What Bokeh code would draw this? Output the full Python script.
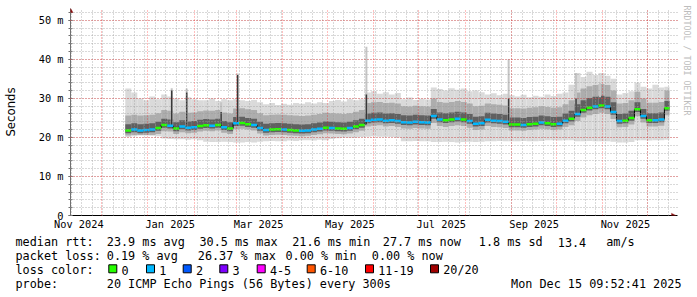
import pandas as pd
from bokeh.plotting import figure
from bokeh.layouts import column
from bokeh.models import (Range1d, FixedTicker, MonthsTicker, SingleIntervalTicker,
                          DatetimeTickFormatter, CustomJSTickFormatter, Grid,
                          PolyAnnotation, Title)
from bokeh.core.properties import value
from bokeh.embed import file_html
from bokeh.resources import INLINE

# ---------------- data ----------------
t_first = "2024-11-10 09:52:41"
t_last = "2025-12-15 09:52:41"
bin_origin = "2024-12-17"
bin_days = 4

median_ms = [
    21.8, 22.0, 21.8, 21.9, 22.0, 22.4, 23.2, 23.0, 22.3, 22.8,
    22.5, 22.6, 22.9, 23.1, 23.0, 23.2, 22.6, 22.3, 23.6, 23.7,
    23.4, 23.2, 22.4, 21.9, 22.0, 22.1, 22.0, 21.9, 21.8, 21.7,
    21.8, 22.0, 22.2, 22.5, 22.4, 22.3, 22.2, 22.4, 22.8, 23.2,
    24.3, 24.5, 24.6, 24.3, 24.4, 24.2, 23.9, 23.8, 24.0, 23.9,
    23.8, 25.5, 24.6, 24.4, 24.6, 24.8, 24.6, 24.2, 23.5, 23.6,
    24.5, 24.3, 24.2, 24.0, 23.3, 23.3, 23.2, 23.4, 23.5, 23.8,
    23.6, 23.4, 23.5, 24.3, 24.8, 26.0, 27.0, 27.6, 27.9, 28.2,
    27.9, 26.5, 24.2, 24.3, 25.0, 27.2, 25.5, 24.4, 24.4, 24.6,
    27.5]

loss_index = [
    0, 1, 1, 1, 1, 0, 0, 1, 0, 1,
    1, 1, 0, 0, 1, 0, 1, 0, 1, 0,
    0, 1, 1, 1, 0, 0, 1, 0, 0, 1,
    1, 1, 1, 0, 1, 0, 0, 1, 0, 0,
    1, 1, 1, 1, 1, 1, 1, 1, 1, 1,
    1, 1, 1, 0, 0, 1, 0, 1, 1, 1,
    1, 1, 1, 1, 0, 0, 1, 0, 0, 1,
    0, 0, 1, 1, 0, 1, 0, 0, 1, 0,
    1, 1, 1, 0, 0, 0, 1, 0, 1, 1,
    0]

smoke_hi = [
    32.5, 31.5, 30.0, 29.5, 30.5, 29.8, 31.0, 30.5, 30.0, 29.5,
    30.3, 29.8, 29.5, 29.5, 30.0, 29.3, 29.8, 29.5, 29.8, 29.5,
    29.3, 29.6, 29.0, 28.5, 28.8, 28.3, 28.6, 28.4, 28.8, 28.6,
    29.0, 28.7, 29.0, 28.8, 29.3, 29.6, 29.2, 29.8, 29.5, 29.8,
    31.5, 31.8, 31.2, 31.6, 31.0, 31.4, 29.8, 30.2, 29.6, 29.9,
    29.7, 32.8, 32.4, 32.0, 32.6, 32.2, 32.5, 31.8, 32.0, 31.6,
    31.0, 31.3, 30.8, 31.2, 30.8, 30.5, 30.9, 30.3, 30.7, 30.4,
    31.0, 30.6, 31.2, 31.5, 33.5, 36.5, 35.5, 36.8, 36.0, 36.5,
    35.8, 35.0, 31.0, 31.4, 31.8, 34.0, 33.0, 32.5, 33.5, 32.8,
    33.0]

smoke_lo = [
    20.1, 20.3, 20.5, 20.5, 20.4, 20.3, 19.7, 19.6, 19.5, 19.5,
    19.4, 19.5, 19.3, 18.9, 18.8, 18.8, 18.9, 18.8, 18.7, 18.7,
    18.8, 18.7, 18.9, 19.0, 19.1, 19.0, 19.0, 19.2, 19.1, 19.3,
    19.3, 19.2, 19.4, 19.3, 19.6, 19.8, 20.0, 19.9, 20.0, 20.1,
    20.2, 20.3, 20.2, 20.2, 20.1, 20.0, 19.0, 19.0, 19.1, 19.0,
    19.0, 18.8, 18.8, 18.9, 18.8, 18.7, 18.8, 18.9, 18.8, 18.9,
    19.0, 19.0, 19.1, 19.0, 19.0, 19.0, 19.1, 19.0, 19.0, 19.1,
    19.3, 19.3, 19.2, 19.3, 19.3, 19.0, 19.0, 19.1, 19.0, 19.0,
    19.0, 18.9, 18.7, 18.7, 18.8, 19.3, 19.3, 19.2, 19.3, 19.3,
    19.4]

mid_hi = [
    25.6, 25.8, 25.6, 25.7, 25.8, 26.2, 27.0, 26.8, 26.1, 26.6,
    26.3, 26.4, 26.7, 26.9, 26.8, 27.0, 26.4, 26.1, 27.4, 27.5,
    27.2, 27.0, 26.2, 25.7, 25.8, 25.9, 25.8, 25.7, 25.6, 25.5,
    25.6, 25.8, 26.0, 26.3, 26.2, 26.1, 26.0, 26.2, 26.6, 27.0,
    28.8, 29.0, 29.1, 28.8, 28.9, 28.7, 28.0, 27.9, 28.1, 28.0,
    27.9, 30.0, 29.1, 28.9, 29.1, 29.3, 29.1, 28.7, 28.0, 28.1,
    28.7, 28.5, 28.4, 28.2, 27.5, 27.5, 27.4, 27.6, 27.7, 28.0,
    27.8, 27.6, 27.7, 28.5, 29.5, 31.5, 32.5, 33.1, 33.4, 33.7,
    33.4, 32.0, 28.7, 28.8, 29.5, 31.7, 30.0, 28.9, 28.9, 29.1,
    32.0]

mid_lo = [
    20.5, 20.6, 20.6, 20.6, 20.6, 20.9, 21.6, 21.5, 20.9, 21.3,
    21.1, 21.2, 21.5, 21.7, 21.6, 21.8, 21.2, 20.9, 22.1, 22.2,
    22.0, 21.8, 21.0, 20.5, 20.6, 20.7, 20.6, 20.5, 20.4, 20.3,
    20.4, 20.6, 20.8, 21.1, 21.0, 20.9, 20.8, 21.0, 21.3, 21.7,
    22.8, 23.0, 23.1, 22.8, 22.9, 22.7, 22.3, 22.2, 22.4, 22.3,
    22.2, 23.7, 22.9, 22.7, 22.9, 23.1, 22.9, 22.5, 21.9, 22.0,
    22.9, 22.7, 22.6, 22.4, 21.8, 21.8, 21.7, 21.9, 22.0, 22.2,
    22.1, 21.9, 22.0, 22.7, 23.1, 24.2, 25.1, 25.7, 26.0, 26.3,
    26.0, 24.7, 22.6, 22.7, 23.3, 25.4, 23.8, 22.8, 22.8, 23.0,
    25.7]

core_hi = [
    23.4, 23.6, 23.4, 23.5, 23.6, 24.0, 24.8, 24.6, 23.9, 24.4,
    24.1, 24.2, 24.5, 24.7, 24.6, 24.8, 24.2, 23.9, 25.2, 25.3,
    25.0, 24.8, 24.0, 23.5, 23.6, 23.7, 23.6, 23.5, 23.4, 23.3,
    23.4, 23.6, 23.8, 24.1, 24.0, 23.9, 23.8, 24.0, 24.4, 24.8,
    26.1, 26.3, 26.4, 26.1, 26.2, 26.0, 25.7, 25.6, 25.8, 25.7,
    25.6, 27.3, 26.4, 26.2, 26.4, 26.6, 26.4, 26.0, 25.3, 25.4,
    26.3, 26.1, 26.0, 25.8, 25.1, 25.1, 25.0, 25.2, 25.3, 25.6,
    25.4, 25.2, 25.3, 26.1, 26.8, 28.5, 29.5, 30.1, 30.4, 30.7,
    30.4, 29.0, 26.0, 26.1, 26.8, 29.0, 27.3, 26.2, 26.2, 26.4,
    29.3]

core_lo = [
    21.1, 21.3, 21.1, 21.2, 21.3, 21.7, 22.5, 22.3, 21.6, 22.1,
    21.8, 21.9, 22.2, 22.4, 22.3, 22.5, 21.9, 21.6, 22.9, 23.0,
    22.7, 22.5, 21.7, 21.2, 21.3, 21.4, 21.3, 21.2, 21.1, 21.0,
    21.1, 21.3, 21.5, 21.8, 21.7, 21.6, 21.5, 21.7, 22.1, 22.5,
    23.6, 23.8, 23.9, 23.6, 23.7, 23.5, 23.2, 23.1, 23.3, 23.2,
    23.1, 24.8, 23.9, 23.7, 23.9, 24.1, 23.9, 23.5, 22.8, 22.9,
    23.8, 23.6, 23.5, 23.3, 22.6, 22.6, 22.5, 22.7, 22.8, 23.1,
    22.9, 22.7, 22.8, 23.6, 24.1, 25.3, 26.3, 26.9, 27.2, 27.5,
    27.2, 25.8, 23.5, 23.6, 24.3, 26.5, 24.8, 23.7, 23.7, 23.9,
    26.8]

spike_dates = ["2025-01-17", "2025-01-27", "2025-02-19", "2025-03-02",
               "2025-05-27", "2025-08-30", "2025-10-14", "2025-10-30"]
spike_base_ms = [22.8, 22.6, 23.0, 23.0, 23.3, 23.8, 25.5, 27.9]
spike_core_ms = [32.0, 31.5, 26.5, 36.0, 31.0, 30.0, 30.0, 30.3]
spike_top_ms = [32.6, 32.5, 29.0, 36.4, 43.2, 40.0, 36.5, 34.0]

x_label_dates = ["2024-11-16", "2025-01-16", "2025-03-16", "2025-05-16",
                 "2025-07-16", "2025-09-16", "2025-11-16"]

loss_labels = ["0", "1", "2", "3", "4-5", "6-10", "11-19", "20/20"]
loss_colors = ["#26ff00", "#00b8ff", "#0059ff", "#7e00ff",
               "#ff00ff", "#ff5500", "#ff0000", "#a00000"]

rtt_parts = ["median rtt:", "23.9 ms avg", "30.5 ms max", "21.6 ms min",
             "27.7 ms now", "1.8 ms sd", "13.4", "am/s"]
loss_parts = ["packet loss:", "0.19 % avg", "26.37 % max", "0.00 % min", "0.00 % now"]
color_head = "loss color:"
probe_parts = ["probe:", "20 ICMP Echo Pings (56 Bytes) every 300s"]
stamp_line = "Mon Dec 15 09:52:41 2025"
watermark = "RRDTOOL / TOBI OETIKER"

# ---------------- layout constants (page pixels) ----------------
rtt_x = [15, 106.3, 199, 291.7, 382.3, 478.3, 557.3, 605.7]
loss_x = [15, 106.3, 197.3, 285, 371.3]
probe_x = [15, 106.3]
stamp_right = 681
box_left = [108.3, 146, 182.7, 219.3, 256.7, 306.7, 365, 430]
box_top, box_size = 264.3, 8
line_base = [241.5, 255.5, 269.5, 283.5]

PX_PER_DAY = 1.4975
PX_PER_MS = 3.904
FRAME_L, FRAME_T = 67, 8          # frame starts a few px above 52 ms for the arrow head
FRAME_W, FRAME_H = 607, 207       # and a few px right of the last sample
BOTTOM = 20
MAIN_H = FRAME_T + FRAME_H + BOTTOM
MONO = "DejaVu Sans Mono"
LEG_FONT = "11.8px"

# ---------------- helpers ----------------
DAY = 86400000.0


def ms(ts):
    return pd.Timestamp(ts).value / 1e6


n = len(median_ms)
x0, x1 = ms(t_first), ms(t_last)
x_left = [ms(bin_origin) + i * bin_days * DAY for i in range(n)]
x_right = [min(v + bin_days * DAY, x1) for v in x_left]
x_end = x0 + FRAME_W / PX_PER_DAY * DAY
y_end = FRAME_H / PX_PER_MS
px_d = DAY / PX_PER_DAY      # x data per pixel
px_m = 1.0 / PX_PER_MS       # y data per pixel

# ---------------- main graph ----------------
p = figure(frame_width=FRAME_W, frame_height=FRAME_H, title=None,
           x_range=Range1d(x0, x_end), y_range=Range1d(0, y_end),
           x_axis_type="datetime", output_backend="svg", toolbar_location=None,
           min_border_left=FRAME_L, min_border_right=697 - FRAME_L - FRAME_W,
           min_border_top=FRAME_T, min_border_bottom=BOTTOM)
p.frame_align = False
p.outline_line_color = None
p.xgrid.visible = False
p.ygrid.visible = False

# smoke
p.quad(left=x_left, right=x_right, bottom=smoke_lo, top=smoke_hi,
       fill_color="#dadada", line_color=None)
p.quad(left=x_left, right=x_right, bottom=mid_lo, top=mid_hi,
       fill_color="#adadad", line_color=None)
p.quad(left=x_left, right=x_right, bottom=core_lo, top=core_hi,
       fill_color="#606060", line_color=None)

sd = [ms(d) for d in spike_dates]
p.segment(x0=sd, x1=sd, y0=spike_base_ms, y1=spike_top_ms,
          line_color="#c4c4c4", line_width=2)
p.segment(x0=sd, x1=sd, y0=spike_base_ms, y1=spike_core_ms,
          line_color="#383838", line_width=1.5)

# median line
p.segment(x0=x_right[:-1], x1=x_right[:-1], y0=median_ms[:-1], y1=median_ms[1:],
          line_color="black", line_width=1)
p.segment(x0=x_left, x1=x_right, y0=median_ms, y1=median_ms,
          line_color=[loss_colors[k] for k in loss_index], line_width=2.5)

# grids (drawn on top like rrdtool)
week_ticks = [ms(d) for d in pd.date_range("2024-11-11", "2025-12-15", freq="W-MON")]
g_week = Grid(dimension=0, ticker=FixedTicker(ticks=week_ticks),
              grid_line_color="#999999", grid_line_alpha=0.75, grid_line_dash="1 2", level="overlay")
g_month = Grid(dimension=0, ticker=MonthsTicker(months=list(range(12))),
               grid_line_color="#ff0000", grid_line_alpha=0.5, grid_line_dash="1 2", level="overlay")
g_ymin = Grid(dimension=1, ticker=FixedTicker(ticks=list(range(0, 53, 2))),
              grid_line_color="#999999", grid_line_alpha=0.75, grid_line_dash="1 2", level="overlay")
g_ymaj = Grid(dimension=1, ticker=SingleIntervalTicker(interval=10),
              grid_line_color="#ff0000", grid_line_alpha=0.5, grid_line_dash="1 2", level="overlay")
for g in (g_week, g_ymin, g_month, g_ymaj):
    p.add_layout(g)

# axes
ya = p.yaxis[0]
ya.ticker = SingleIntervalTicker(interval=10, num_minor_ticks=5)
ya.formatter = CustomJSTickFormatter(code="return tick == 0 ? '0' : tick.toFixed(0) + ' m';")
ya.axis_line_color = "#707070"
ya.major_tick_line_color = "#707070"
ya.minor_tick_line_color = "#707070"
ya.major_tick_in = 2
ya.major_tick_out = 2
ya.minor_tick_in = 2
ya.minor_tick_out = 2
ya.major_label_text_font = MONO
ya.major_label_text_font_size = "10.3px"
ya.major_label_text_color = "black"
ya.major_label_standoff = 5
ya.axis_label = "Seconds"
ya.axis_label_text_font = "DejaVu Sans"
ya.axis_label_text_font_size = "11.7px"
ya.axis_label_text_font_style = "normal"
ya.axis_label_text_color = "black"
ya.axis_label_standoff = 18

xa = p.xaxis[0]
xa.ticker = FixedTicker(ticks=[ms(d) for d in x_label_dates])
fmt = "%b %Y"
xa.formatter = DatetimeTickFormatter(microseconds=fmt, milliseconds=fmt, seconds=fmt,
                                     minsec=fmt, minutes=fmt, hourmin=fmt, hours=fmt,
                                     days=fmt, months=fmt, years=fmt)
xa.axis_line_color = "black"
xa.major_tick_line_color = None
xa.minor_tick_line_color = None
xa.major_tick_in = 0
xa.major_tick_out = 0
xa.minor_tick_in = 0
xa.minor_tick_out = 0
xa.axis_label_standoff = 0
xa.major_label_text_font = MONO
xa.major_label_text_font_size = "10.3px"
xa.major_label_text_color = "black"
xa.major_label_standoff = 2

# axis arrow heads (rrdtool style), inside the slightly enlarged frame
arrow_col = "#8b1010"
p.add_layout(PolyAnnotation(
    xs=[x0 - 2.5 * px_d, x0 + 2.5 * px_d, x0],
    ys=[52.0, 52.0, 52.0 + 4.4 * px_m],
    fill_color=arrow_col, fill_alpha=1, line_color=arrow_col, level="overlay"))
p.add_layout(PolyAnnotation(
    xs=[x1 + 2 * px_d, x1 + 2 * px_d, x1 + 6.5 * px_d],
    ys=[-2.3 * px_m, 2.3 * px_m, 0],
    fill_color=arrow_col, fill_alpha=1, line_color=arrow_col, level="overlay"))

p.add_layout(Title(text=watermark, align="left", text_font=MONO,
                   text_font_size="8.3px", text_font_style="normal",
                   text_color="#bdbdbd", standoff=8, offset=-3), "right")

# ---------------- legend block (page-pixel coordinates) ----------------
lg = figure(width=697, height=297 - MAIN_H, title=None,
            x_range=Range1d(0, 697), y_range=Range1d(297, MAIN_H),
            output_backend="svg", toolbar_location=None,
            x_axis_location=None, y_axis_location=None, min_border=0,
            min_border_left=0, min_border_right=0, min_border_top=0, min_border_bottom=0)
lg.frame_align = False
lg.outline_line_color = None
lg.xgrid.visible = False
lg.ygrid.visible = False

tx = rtt_x + loss_x + [15] + probe_x
ty = ([line_base[0]] * len(rtt_x) + [line_base[1]] * len(loss_x)
      + [line_base[2]] + [line_base[3]] * len(probe_x))
tt = rtt_parts + loss_parts + [color_head] + probe_parts
lg.text(x=tx, y=ty, text=tt, text_font=value(MONO), text_font_size=LEG_FONT,
        text_baseline="alphabetic", text_color="black")
lg.text(x=[stamp_right], y=[line_base[3]], text=[stamp_line],
        text_font=value(MONO), text_font_size=LEG_FONT,
        text_baseline="alphabetic", text_align="right", text_color="black")

lg.quad(left=box_left, right=[b + box_size for b in box_left],
        top=[box_top] * 8, bottom=[box_top + box_size] * 8,
        fill_color=loss_colors, line_color="black", line_width=1)
lg.text(x=[b + 12.7 for b in box_left], y=[line_base[2]] * 8, text=loss_labels,
        text_font=value(MONO), text_font_size=LEG_FONT,
        text_baseline="alphabetic", text_color="black")

layout = column(p, lg, spacing=0)
open("out.html", "w").write(file_html(layout, INLINE))
